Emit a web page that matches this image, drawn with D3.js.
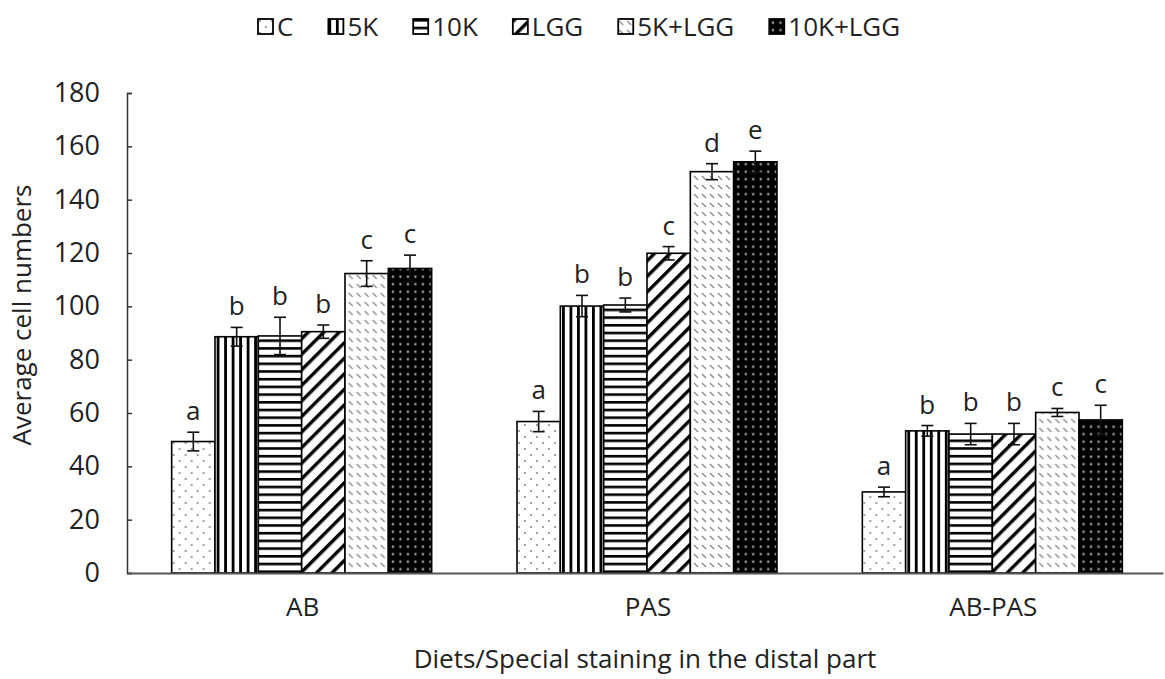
<!DOCTYPE html>
<html>
<head>
<meta charset="utf-8">
<script src="https://cdn.jsdelivr.net/npm/d3@7"></script>
<style>
  body { margin: 0; background: #fff; }
  text { font-family: "Open Sans", Lato, sans-serif; fill: #222; }
</style>
</head>
<body>
<div id="chart"></div>
<script>
// data
var categories = ["AB", "PAS", "AB-PAS"];
var diets = ["C", "5K", "10K", "LGG", "5K+LGG", "10K+LGG"];
var valuesC      = [49.3, 56.8, 30.4];
var values5K     = [88.6, 100.1, 53.3];
var values10K    = [88.9, 100.5, 52.1];
var valuesLGG    = [90.5, 119.9, 52.1];
var values5KLGG  = [112.3, 150.5, 60.2];
var values10KLGG = [114.2, 154.2, 57.4];
var errC      = [3.5, 3.8, 1.8];
var err5K     = [3.5, 4.0, 2.0];
var err10K    = [7.0, 2.6, 4.0];
var errLGG    = [2.5, 2.5, 4.0];
var err5KLGG  = [4.8, 3.0, 1.5];
var err10KLGG = [5.0, 4.0, 5.5];
var lettersC      = ["a", "a", "a"];
var letters5K     = ["b", "b", "b"];
var letters10K    = ["b", "b", "b"];
var lettersLGG    = ["b", "c", "b"];
var letters5KLGG  = ["c", "d", "c"];
var letters10KLGG = ["c", "e", "c"];
var yTicks = [0, 20, 40, 60, 80, 100, 120, 140, 160, 180];

var seriesValues = [valuesC, values5K, values10K, valuesLGG, values5KLGG, values10KLGG];
var seriesErr = [errC, err5K, err10K, errLGG, err5KLGG, err10KLGG];
var seriesLetters = [lettersC, letters5K, letters10K, lettersLGG, letters5KLGG, letters10KLGG];

var svgWidth = 1165;
var svgHeight = 679;
var margin = { top: 93, right: 2, bottom: 106, left: 127 };
var chartWidth = svgWidth - margin.left - margin.right;
var chartHeight = svgHeight - margin.top - margin.bottom;

var svg = d3.select("#chart")
  .append("svg")
  .attr("width", svgWidth)
  .attr("height", svgHeight);

// hatch patterns
var defs = svg.append("defs");

var pC = defs.append("pattern").attr("id", "p0").attr("patternUnits", "userSpaceOnUse")
  .attr("width", 12).attr("height", 12);
pC.append("rect").attr("width", 12).attr("height", 12).attr("fill", "#fff");
pC.append("circle").attr("cx", 2).attr("cy", 2).attr("r", 0.9).attr("fill", "#777");
pC.append("circle").attr("cx", 8).attr("cy", 8).attr("r", 0.9).attr("fill", "#777");

var p5 = defs.append("pattern").attr("id", "p1").attr("patternUnits", "userSpaceOnUse")
  .attr("width", 7.5).attr("height", 7);
p5.append("rect").attr("width", 7.5).attr("height", 7).attr("fill", "#fff");
p5.append("rect").attr("x", 0).attr("width", 2.8).attr("height", 7).attr("fill", "#000");

var p10 = defs.append("pattern").attr("id", "p2").attr("patternUnits", "userSpaceOnUse")
  .attr("width", 7.7).attr("height", 7.7);
p10.append("rect").attr("width", 7.7).attr("height", 7.7).attr("fill", "#fff");
p10.append("rect").attr("y", 0).attr("width", 7.7).attr("height", 2.6).attr("fill", "#000");

var pL = defs.append("pattern").attr("id", "p3").attr("patternUnits", "userSpaceOnUse")
  .attr("width", 11).attr("height", 11).attr("patternTransform", "rotate(45)");
pL.append("rect").attr("width", 11).attr("height", 11).attr("fill", "#fff");
pL.append("rect").attr("x", 0).attr("width", 3.4).attr("height", 11).attr("fill", "#000");

var p5L = defs.append("pattern").attr("id", "p4").attr("patternUnits", "userSpaceOnUse")
  .attr("width", 8).attr("height", 9);
p5L.append("rect").attr("width", 8).attr("height", 9).attr("fill", "#fff");
p5L.append("line").attr("x1", 1).attr("y1", 2).attr("x2", 5).attr("y2", 6)
  .attr("stroke", "#888").attr("stroke-width", 1.3);

var p10L = defs.append("pattern").attr("id", "p5").attr("patternUnits", "userSpaceOnUse")
  .attr("width", 7.5).attr("height", 7.5);
p10L.append("rect").attr("width", 7.5).attr("height", 7.5).attr("fill", "#000");
p10L.append("circle").attr("cx", 3.75).attr("cy", 3.75).attr("r", 1.3).attr("fill", "#999");

var chartGroup = svg.append("g")
  .attr("transform", `translate(${margin.left}, ${margin.top})`);

var xScale = d3.scaleBand()
  .domain(categories)
  .range([0, chartWidth]);

var xInner = d3.scaleBand()
  .domain(diets)
  .range([0, 260])
  .padding(0);

var yScale = d3.scaleLinear()
  .domain([0, 180])
  .range([chartHeight, 0]);

// y axis
var leftAxis = d3.axisLeft(yScale).tickValues(yTicks).tickSize(-5).tickPadding(27);
var yAxisG = chartGroup.append("g").call(leftAxis);
yAxisG.select(".domain").attr("stroke", "#333").attr("stroke-width", 1.5);
yAxisG.selectAll(".tick line").attr("stroke", "#333").attr("stroke-width", 1.5);
yAxisG.selectAll(".tick text").attr("font-size", "27px").attr("fill", "#222")
  .style("font-family", "'Open Sans', sans-serif");

// bars
var groups = chartGroup.selectAll(".group")
  .data(categories)
  .enter()
  .append("g")
  .attr("transform", d => `translate(${xScale(d) + xScale.bandwidth() / 2 - 128}, 0)`);

groups.each(function(cat, ci) {
  var g = d3.select(this);
  diets.forEach(function(diet, si) {
    var v = seriesValues[si][ci];
    var e = seriesErr[si][ci];
    var x0 = xInner(diet);
    var w = xInner.bandwidth();
    var cx = x0 + w / 2;
    g.append("rect")
      .attr("x", x0)
      .attr("y", yScale(v))
      .attr("width", w)
      .attr("height", chartHeight - yScale(v))
      .attr("fill", "url(#p" + si + ")")
      .attr("stroke", "#000")
      .attr("stroke-width", 1.6);
    // error bar
    var eb = g.append("g").attr("stroke", "#111").attr("stroke-width", 1.6);
    eb.append("line").attr("x1", cx).attr("x2", cx).attr("y1", yScale(v + e)).attr("y2", yScale(v - e));
    eb.append("line").attr("x1", cx - 6).attr("x2", cx + 6).attr("y1", yScale(v + e)).attr("y2", yScale(v + e));
    eb.append("line").attr("x1", cx - 6).attr("x2", cx + 6).attr("y1", yScale(v - e)).attr("y2", yScale(v - e));
    g.append("text")
      .attr("x", cx)
      .attr("y", yScale(v + e) - 12)
      .attr("text-anchor", "middle")
      .attr("font-size", "26px")
      .text(seriesLetters[si][ci]);
  });
});

// x axis
var bottomAxis = d3.axisBottom(xScale).tickSize(0).tickPadding(25);
var xAxisG = chartGroup.append("g")
  .attr("transform", `translate(0, ${chartHeight})`)
  .call(bottomAxis);
xAxisG.select(".domain").attr("stroke", "#555").attr("stroke-width", 2);
xAxisG.selectAll(".tick text").attr("font-size", "26px").attr("fill", "#222")
  .style("font-family", "'Open Sans', sans-serif");
xAxisG.selectAll(".tick").attr("transform", d => `translate(${xScale(d) + xScale.bandwidth() / 2 + 3}, 0)`);

// axis titles
svg.append("text")
  .attr("x", 645)
  .attr("y", 668)
  .attr("text-anchor", "middle")
  .attr("font-size", "26px")
  .text("Diets/Special staining in the distal part");

svg.append("text")
  .attr("transform", "translate(31, 315) rotate(-90)")
  .attr("text-anchor", "middle")
  .attr("font-size", "26px")
  .text("Average cell numbers");

// legend
var legend = svg.append("g").attr("transform", "translate(258, 19)");
var lx = 0;
diets.forEach(function(diet, si) {
  var item = legend.append("g").attr("transform", `translate(${lx}, 0)`);
  item.append("rect")
    .attr("x", 0).attr("y", 0)
    .attr("width", 15).attr("height", 15)
    .attr("fill", "url(#p" + si + ")")
    .attr("stroke", "#000").attr("stroke-width", 1.8);
  var t = item.append("text")
    .attr("x", 19).attr("y", 17)
    .attr("font-size", "26px")
    .text(diet);
  lx += 19 + t.node().getComputedTextLength() + 35;
});
</script>
</body>
</html>
